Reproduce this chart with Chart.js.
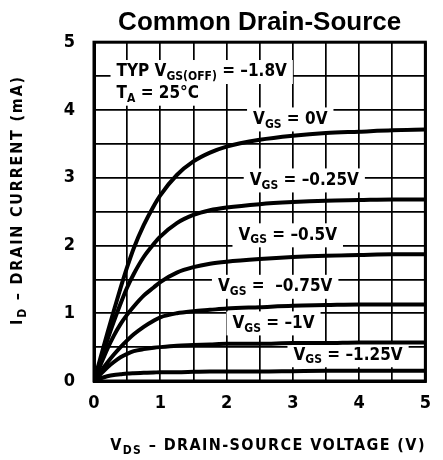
<!DOCTYPE html>
<html>
<head>
<meta charset="utf-8">
<script src="https://cdn.jsdelivr.net/npm/chart.js@4/dist/chart.umd.min.js"></script>
<style>
  body { margin: 0; background: #fff; }
</style>
</head>
<body>
<canvas id="chart" width="443" height="460"></canvas>
<script>
// drain-source voltage (V), shared by every curve
const vds = [0, 0.1, 0.2, 0.3, 0.4, 0.5, 0.6, 0.75, 0.9, 1.0, 1.25, 1.5, 1.75, 2.0, 2.5, 3.0, 3.5, 4.0, 4.5, 5.0];

// drain current (mA) for each gate-source voltage
const idVgs0    = [0, 0.35, 0.7, 1.04, 1.37, 1.68, 1.96, 2.3, 2.58, 2.74, 3.04, 3.24, 3.37, 3.46, 3.56, 3.62, 3.66, 3.68, 3.70, 3.71];
const idVgs025  = [0, 0.3, 0.6, 0.88, 1.14, 1.38, 1.58, 1.83, 2.02, 2.13, 2.33, 2.45, 2.52, 2.56, 2.61, 2.64, 2.66, 2.67, 2.68, 2.68];
const idVgs05   = [0, 0.24, 0.47, 0.67, 0.84, 0.98, 1.1, 1.26, 1.38, 1.46, 1.6, 1.68, 1.73, 1.76, 1.8, 1.83, 1.85, 1.86, 1.87, 1.87];
const idVgs075  = [0, 0.14, 0.27, 0.39, 0.5, 0.6, 0.69, 0.8, 0.89, 0.94, 1.0, 1.03, 1.05, 1.07, 1.09, 1.11, 1.12, 1.13, 1.13, 1.13];
const idVgs1    = [0, 0.1, 0.2, 0.28, 0.35, 0.4, 0.44, 0.47, 0.49, 0.5, 0.52, 0.53, 0.54, 0.55, 0.55, 0.56, 0.56, 0.57, 0.57, 0.57];
const idVgs125  = [0, 0.04, 0.07, 0.09, 0.1, 0.11, 0.115, 0.12, 0.125, 0.13, 0.13, 0.135, 0.14, 0.14, 0.14, 0.145, 0.15, 0.15, 0.15, 0.15];

const seriesNames = ['0V', '-0.25V', '-0.5V', '-0.75V', '-1V', '-1.25V'];
const xTickLabels = ['0', '1', '2', '3', '4', '5'];
const yTickLabels = ['0', '1', '2', '3', '4', '5'];

const curves = [idVgs0, idVgs025, idVgs05, idVgs075, idVgs1, idVgs125];

// text notes on the plot: [text, isSubscript] parts, anchored left/middle in data units
const notes = [
  { parts: [['TYP V', 0], ['GS(OFF)', 1], [' = –1.8V', 0]], x: 0.34, y: 4.56 },
  { parts: [['T', 0], ['A', 1], [' = 25°C', 0]], x: 0.34, y: 4.24 },
  { parts: [['V', 0], ['GS', 1], [' = 0V', 0]], x: 2.40, y: 3.86 },
  { parts: [['V', 0], ['GS', 1], [' = –0.25V', 0]], x: 2.35, y: 2.96 },
  { parts: [['V', 0], ['GS', 1], [' = –0.5V', 0]], x: 2.18, y: 2.15 },
  { parts: [['V', 0], ['GS', 1], [' =  –0.75V', 0]], x: 1.87, y: 1.39 },
  { parts: [['V', 0], ['GS', 1], [' = –1V', 0]], x: 2.09, y: 0.85 },
  { parts: [['V', 0], ['GS', 1], [' = –1.25V', 0]], x: 3.01, y: 0.38 }
];

const COND = '"DejaVu Sans Condensed", sans-serif';

function richWidth(ctx, parts, mainFont, subFont) {
  let w = 0;
  parts.forEach(([t, sub]) => {
    ctx.font = sub ? subFont : mainFont;
    w += ctx.measureText(t).width;
  });
  return w;
}

function drawRich(ctx, parts, x, y, mainFont, subFont, subDrop) {
  ctx.textAlign = 'left';
  ctx.textBaseline = 'middle';
  parts.forEach(([t, sub]) => {
    ctx.font = sub ? subFont : mainFont;
    ctx.fillText(t, x, sub ? y + subDrop : y);
    x += ctx.measureText(t).width;
  });
}

const annotations = {
  id: 'annotations',
  beforeDatasetsDraw(chart) {
    const { ctx, scales: { x, y } } = chart;
    const mainFont = 'bold 17px ' + COND;
    const subFont = 'bold 12px ' + COND;
    ctx.save();
    notes.forEach((n) => {
      const px = x.getPixelForValue(n.x);
      const py = y.getPixelForValue(n.y);
      const w = richWidth(ctx, n.parts, mainFont, subFont);
      ctx.fillStyle = '#fff';
      ctx.fillRect(px - 6, py - 12, w + 12, 24);
      ctx.fillStyle = '#000';
      drawRich(ctx, n.parts, px, py, mainFont, subFont, 5);
    });
    ctx.restore();
  },
  afterDraw(chart) {
    const { ctx, chartArea: a } = chart;
    ctx.save();
    ctx.strokeStyle = '#000';
    ctx.lineWidth = 3;
    ctx.strokeRect(a.left, a.top, a.right - a.left, a.bottom - a.top);

    ctx.fillStyle = '#000';
    const mainFont = 'bold 16px ' + COND;
    const subFont = 'bold 12px ' + COND;

    // x axis title
    if ('letterSpacing' in ctx) ctx.letterSpacing = '1.4px';
    const xParts = [['V', 0], ['DS', 1], [' – DRAIN-SOURCE VOLTAGE (V)', 0]];
    const xw = richWidth(ctx, xParts, mainFont, subFont);
    drawRich(ctx, xParts, 268 - xw / 2, 446, mainFont, subFont, 5);

    // y axis title
    if ('letterSpacing' in ctx) ctx.letterSpacing = '1.8px';
    const yParts = [['I', 0], ['D', 1], [' – DRAIN CURRENT (mA)', 0]];
    const yw = richWidth(ctx, yParts, mainFont, subFont);
    ctx.translate(18, 200);
    ctx.rotate(-Math.PI / 2);
    drawRich(ctx, yParts, -yw / 2, 0, mainFont, subFont, 5);
    ctx.restore();
  }
};

const tickFont = { family: COND, size: 18, weight: 'bold' };

new Chart(document.getElementById('chart'), {
  type: 'line',
  data: {
    datasets: curves.map((c, i) => ({
      label: 'VGS = ' + seriesNames[i],
      data: vds.map((v, j) => ({ x: v, y: c[j] })),
      borderColor: '#000',
      borderWidth: 4,
      pointRadius: 0,
      cubicInterpolationMode: 'monotone',
      fill: false
    }))
  },
  options: {
    responsive: false,
    animation: false,
    devicePixelRatio: 1,
    layout: { padding: { left: 0, right: 7, top: 0, bottom: 0 } },
    plugins: {
      legend: { display: false },
      tooltip: { enabled: false },
      title: {
        display: true,
        fullSize: false,
        text: 'Common Drain-Source',
        color: '#000',
        font: { family: '"Liberation Sans", Arial, sans-serif', size: 26, weight: 'bold' },
        padding: { top: 7, bottom: 4 }
      }
    },
    scales: {
      x: {
        type: 'linear',
        min: 0,
        max: 5,
        ticks: {
          stepSize: 0.5,
          autoSkip: false,
          maxRotation: 0,
          color: '#000',
          font: tickFont,
          padding: 12,
          callback: (v) => (Number.isInteger(v) ? xTickLabels[v] : '')
        },
        grid: { color: '#000', lineWidth: 1.7, drawTicks: false },
        border: { color: '#000', width: 3 },
        afterFit: (s) => { s.height = 79; }
      },
      y: {
        min: 0,
        max: 5,
        ticks: {
          stepSize: 0.5,
          autoSkip: false,
          color: '#000',
          font: tickFont,
          padding: 19,
          callback: (v) => (Number.isInteger(v) ? yTickLabels[v] : '')
        },
        grid: { color: '#000', lineWidth: 1.7, drawTicks: false },
        border: { color: '#000', width: 3 },
        afterFit: (s) => { s.width = 94; }
      }
    }
  },
  plugins: [annotations]
});
</script>
</body>
</html>
